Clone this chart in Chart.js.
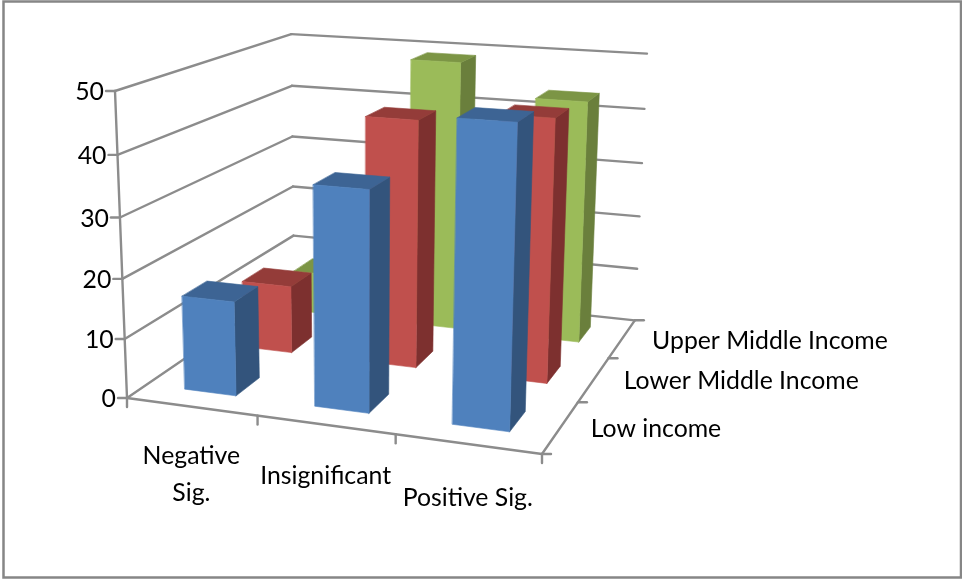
<!DOCTYPE html>
<html>
<head>
<meta charset="utf-8">
<title>3D column chart</title>
<script src="https://cdn.jsdelivr.net/npm/chart.js@4"></script>
<style>
  body { margin: 0; background: #fff; }
  canvas { display: block; }
</style>
</head>
<body>
<canvas id="incomeChart" width="962" height="579"></canvas>
<script>
const categories = [['Negative', 'Sig.'], ['Insignificant'], ['Positive Sig.']];
const seriesNames = ['Low income', 'Lower Middle Income', 'Upper Middle Income'];
const lowIncome = [15.9, 36.2, 48.15];
const lowerMiddle = [12, 42.8, 44.7];
const upperMiddle = [7.7, 49, 43.5];
const yTicks = [0, 10, 20, 30, 40, 50];

// face colours: front, side, top
const blue = ['#4f81bd', '#33547c', '#3d6494'];
const red = ['#c0504d', '#7d302f', '#943c39'];
const green = ['#9bbb59', '#6a7f3c', '#7c9545'];

// where the corners of the 3D box land on the page, and how fast each axis recedes
const origin = [127, 398];
const xEnd = [542, 454];
const depthEnd = [294, 284];
const topEnd = [115, 91];
const persp = { u: 0.918, v: 1.24, w: 0.951 };
const barShare = 0.4;
const gridColor = '#8c8c8c';

// u along categories, v into the page, w up, all 0..1
function project(u, v, w) {
  const d = 1 + u * (persp.u - 1) + v * (persp.v - 1) + w * (persp.w - 1);
  const k = 1 - u - v - w;
  return [0, 1].map(n =>
    (k * origin[n] + u * persp.u * xEnd[n] + v * persp.v * depthEnd[n] + w * persp.w * topEnd[n]) / d);
}

function poly(ctx, pts, color) {
  ctx.beginPath();
  pts.forEach((p, i) => i ? ctx.lineTo(p[0], p[1]) : ctx.moveTo(p[0], p[1]));
  ctx.closePath();
  ctx.fillStyle = color;
  ctx.strokeStyle = color;
  ctx.lineWidth = 0.6;
  ctx.fill();
  ctx.stroke();
}

function line(ctx, a, b) {
  ctx.beginPath();
  ctx.moveTo(a[0], a[1]);
  ctx.lineTo(b[0], b[1]);
  ctx.stroke();
}

const box3d = {
  id: 'box3d',
  beforeDraw(chart) {
    const ctx = chart.ctx;
    ctx.save();
    ctx.strokeStyle = '#868686';
    ctx.lineWidth = 2.5;
    ctx.strokeRect(3.5, 1.5, 957.5, 576);
    ctx.restore();
  },
  // cancel the flat bars, the 3D ones get drawn from the same values
  beforeDatasetsDraw(chart) {
    const { ctx, scales } = chart;
    const { x, y, depth } = scales;
    const U = i => (x.getPixelForValue(i) - x.left) / x.width;
    const V = s => (depth.getPixelForValue(s) - depth.left) / depth.width;
    const W = val => (y.bottom - y.getPixelForValue(val)) / y.height;

    ctx.save();
    ctx.lineCap = 'round';

    // walls
    ctx.strokeStyle = gridColor;
    ctx.lineWidth = 2.4;
    yTicks.forEach(t => {
      const w = W(t);
      line(ctx, project(0, 0, w), project(0, 1, w));
      line(ctx, project(0, 1, w), project(1, 1, w));
      const p = project(0, 0, w);
      line(ctx, p, [p[0] - 9, p[1]]);
    });
    line(ctx, project(0, 0, 0), project(0, 0, 1));
    line(ctx, project(0, 0, 0), project(1, 0, 0));
    line(ctx, project(1, 0, 0), project(1, 1, 0));
    [0, 1, 2, 3].forEach(i => {
      const p = project(i / 3, 0, 0);
      line(ctx, p, [p[0], p[1] + 9]);
      const q = project(1, i / 3, 0);
      line(ctx, q, [q[0] + 9, q[1]]);
    });

    // back row first so the nearer bars cover it
    const half = barShare / 6;
    for (let s = chart.data.datasets.length - 1; s >= 0; s--) {
      const ds = chart.data.datasets[s];
      const v0 = V(s) - half, v1 = V(s) + half;
      ds.data.forEach((val, i) => {
        const u0 = U(i) - half, u1 = U(i) + half, w = W(val);
        poly(ctx, [project(u1, v0, 0), project(u1, v1, 0), project(u1, v1, w), project(u1, v0, w)], ds.faces[1]);
        poly(ctx, [project(u0, v0, w), project(u1, v0, w), project(u1, v1, w), project(u0, v1, w)], ds.faces[2]);
        poly(ctx, [project(u0, v0, 0), project(u1, v0, 0), project(u1, v0, w), project(u0, v0, w)], ds.faces[0]);
      });
    }

    // axis text
    ctx.fillStyle = '#000';
    ctx.font = '24.8px Lato';
    ctx.textBaseline = 'middle';
    ctx.textAlign = 'right';
    yTicks.forEach(t => {
      const p = project(0, 0, W(t));
      ctx.fillText(String(t), p[0] - 11, p[1] + 1);
    });
    ctx.textAlign = 'center';
    const catDrop = [49, 51, 54];
    categories.forEach((lines, i) => {
      const p = project(U(i), 0, 0);
      lines.forEach((t, n) => ctx.fillText(t, p[0], p[1] + catDrop[i] + n * 37));
    });
    ctx.textAlign = 'left';
    seriesNames.forEach((name, s) => {
      const p = project(1, V(s), 0);
      ctx.fillText(name, p[0] + 30, p[1] + 2);
    });
    ctx.restore();
    return false;
  }
};

const incomeChart = new Chart(document.getElementById('incomeChart').getContext('2d'), {
  type: 'bar',
  data: {
    labels: categories,
    datasets: [
      { label: seriesNames[0], data: lowIncome, backgroundColor: blue[0], faces: blue },
      { label: seriesNames[1], data: lowerMiddle, backgroundColor: red[0], faces: red },
      { label: seriesNames[2], data: upperMiddle, backgroundColor: green[0], faces: green }
    ]
  },
  options: {
    responsive: false,
    animation: false,
    plugins: { legend: { display: false }, tooltip: { enabled: false } },
    scales: {
      x: { display: false },
      y: { display: false, min: 0, max: 50, ticks: { stepSize: 10 } },
      depth: { type: 'category', axis: 'x', labels: seriesNames, offset: true, display: false }
    }
  },
  plugins: [box3d]
});
</script>
</body>
</html>
